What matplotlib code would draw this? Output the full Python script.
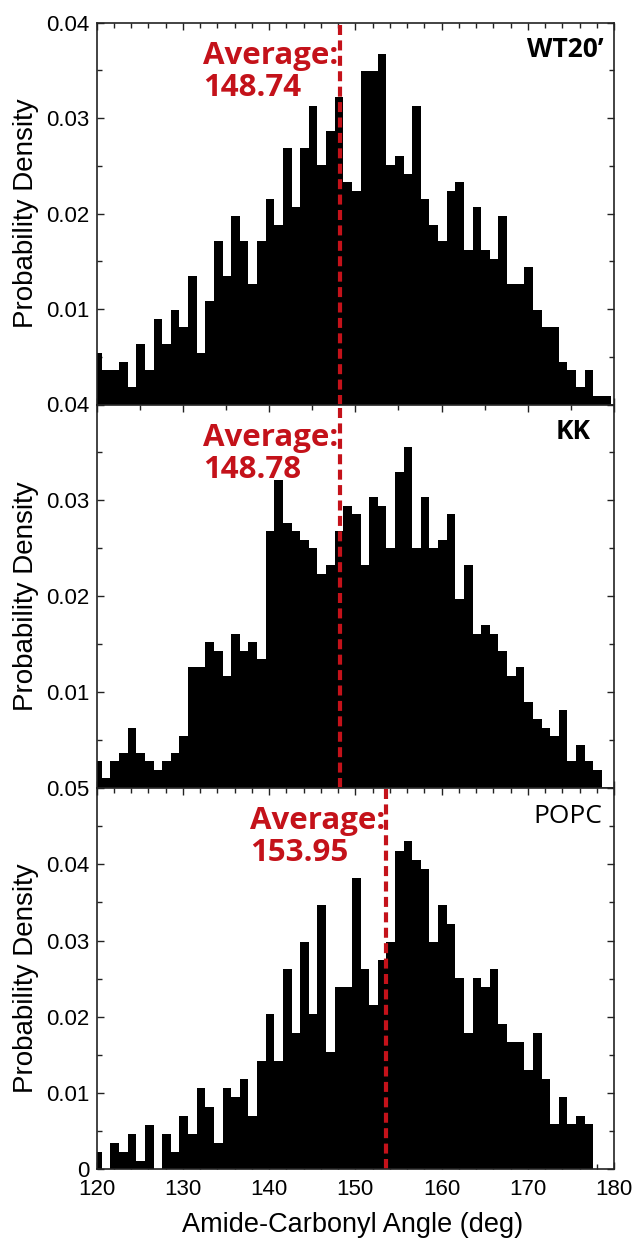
import numpy as np
import matplotlib
matplotlib.use("Agg")
import matplotlib.pyplot as plt
from matplotlib.ticker import MultipleLocator, FixedLocator, FixedFormatter

# ---------------- data ----------------
bin_start = 119.6
bin_width = 1.0
n_bins = 60

wt20 = [0.0054, 0.0036, 0.0036, 0.0045, 0.0018, 0.0063, 0.0036, 0.0090, 0.0063, 0.0099,
        0.0081, 0.0135, 0.0054, 0.0108, 0.0171, 0.0135, 0.0197, 0.0171, 0.0126, 0.0171,
        0.0215, 0.0188, 0.0269, 0.0207, 0.0269, 0.0313, 0.0251, 0.0287, 0.0322, 0.0233,
        0.0224, 0.0349, 0.0349, 0.0367, 0.0251, 0.0260, 0.0242, 0.0313, 0.0215, 0.0188,
        0.0171, 0.0224, 0.0233, 0.0162, 0.0207, 0.0162, 0.0152, 0.0197, 0.0126, 0.0126,
        0.0144, 0.0099, 0.0081, 0.0081, 0.0045, 0.0036, 0.0018, 0.0036, 0.0009, 0.0009]

kk = [0.0028, 0.0010, 0.0028, 0.0037, 0.0063, 0.0037, 0.0028, 0.0019, 0.0028, 0.0037,
      0.0054, 0.0126, 0.0126, 0.0152, 0.0143, 0.0117, 0.0161, 0.0143, 0.0152, 0.0135,
      0.0268, 0.0321, 0.0276, 0.0268, 0.0259, 0.0250, 0.0223, 0.0233, 0.0268, 0.0294,
      0.0286, 0.0233, 0.0303, 0.0294, 0.0250, 0.0330, 0.0356, 0.0250, 0.0303, 0.0250,
      0.0259, 0.0286, 0.0197, 0.0233, 0.0161, 0.0170, 0.0161, 0.0143, 0.0117, 0.0126,
      0.0090, 0.0072, 0.0063, 0.0054, 0.0081, 0.0028, 0.0045, 0.0028, 0.0019, 0.0]

popc = [0.0023, 0.0, 0.0035, 0.0023, 0.0046, 0.0011, 0.0058, 0.0, 0.0046, 0.0023,
        0.0070, 0.0046, 0.0106, 0.0082, 0.0035, 0.0106, 0.0095, 0.0118, 0.0070, 0.0142,
        0.0203, 0.0142, 0.0263, 0.0179, 0.0298, 0.0203, 0.0346, 0.0154, 0.0239, 0.0239,
        0.0382, 0.0263, 0.0215, 0.0275, 0.0298, 0.0418, 0.0430, 0.0406, 0.0394, 0.0298,
        0.0346, 0.0322, 0.0251, 0.0179, 0.0251, 0.0239, 0.0263, 0.0191, 0.0167, 0.0167,
        0.0130, 0.0179, 0.0119, 0.0059, 0.0095, 0.0059, 0.0070, 0.0059, 0.0, 0.0]

panel_names = ["WT20\u2019", "KK", "POPC"]
panel_weights = ["bold", "bold", "normal"]
average_labels = ["148.74", "148.78", "153.95"]
average_lines = [148.2, 148.2, 153.6]
average_text_x = [132.3, 132.3, 137.8]
name_x = [0.979, 0.954, 0.978]
y_max = [0.04, 0.04, 0.05]
y_tick_labels = [["", "0.01", "0.02", "0.03", "0.04"],
                 ["", "0.01", "0.02", "0.03", "0.04"],
                 ["0", "0.01", "0.02", "0.03", "0.04", "0.05"]]
top_minor = [2, 5, 2]
series = [wt20, kk, popc]

# ---------------- style ----------------
RED = "#c4121a"
tick_font = ["Liberation Sans", "DejaVu Sans"]
label_font = ["Liberation Sans", "DejaVu Sans"]
title_font = ["Open Sans", "DejaVu Sans"]

fig = plt.figure(figsize=(6.39, 12.39), dpi=100)
W, H = 639.0, 1239.0
left_px, right_px = 96.7, 614.0
panel_px = [(22.7, 404.5), (404.5, 788.0), (788.0, 1169.3)]

edges = bin_start + bin_width * np.arange(n_bins)

for i, (top, bot) in enumerate(panel_px):
    ax = fig.add_axes([left_px / W, 1 - bot / H, (right_px - left_px) / W, (bot - top) / H])
    ax.bar(edges, series[i], width=bin_width, align="edge", color="black",
           linewidth=0, zorder=2)
    ax.axvline(average_lines[i], color=RED, lw=3.0, dashes=(2.4, 1.3), zorder=3)
    ax.set_xlim(120, 180)
    ax.set_ylim(0, y_max[i])

    yt = list(np.round(np.arange(0, y_max[i] + 1e-9, 0.01), 3))
    ax.yaxis.set_major_locator(FixedLocator(yt))
    ax.yaxis.set_major_formatter(FixedFormatter(y_tick_labels[i]))
    ax.yaxis.set_minor_locator(MultipleLocator(0.005))
    ax.xaxis.set_major_locator(MultipleLocator(10))
    ax.xaxis.set_minor_locator(MultipleLocator(top_minor[i]))

    ax.tick_params(axis="both", which="both", direction="in", top=True, right=True,
                   width=1.0, color="#222222")
    ax.tick_params(axis="both", which="major", length=5)
    ax.tick_params(axis="both", which="minor", length=3.5)
    ax.tick_params(axis="y", pad=5, labelsize=16)
    ax.tick_params(axis="x", pad=7, labelsize=16)
    for lab in ax.get_yticklabels() + ax.get_xticklabels():
        lab.set_family(tick_font)
    if i < 2:
        ax.tick_params(axis="x", labelbottom=False)

    for s in ax.spines.values():
        s.set_linewidth(1.2)
        s.set_color("#222222")
        s.set_zorder(4)

    ax.set_ylabel("Probability Density", fontsize=20, family=label_font)
    ax.yaxis.set_label_coords(-0.112, 0.5)

    ax.text(average_text_x[i], 0.892 * y_max[i], "Average:", color=RED,
            fontsize=22.5, fontweight="bold", family=title_font, ha="left", va="baseline")
    ax.text(average_text_x[i], 0.809 * y_max[i], average_labels[i], color=RED,
            fontsize=22.5, fontweight="bold", family=title_font, ha="left", va="baseline")
    ax.text(name_x[i], 0.909, panel_names[i], transform=ax.transAxes, color="black",
            fontsize=19, fontweight=panel_weights[i], family=title_font,
            ha="right", va="baseline")

fig.text(353 / W, 1 - 1232 / H, "Amide-Carbonyl Angle (deg)", fontsize=19.5,
         family=label_font, ha="center", va="baseline")

fig.savefig("out.png", dpi=100)
